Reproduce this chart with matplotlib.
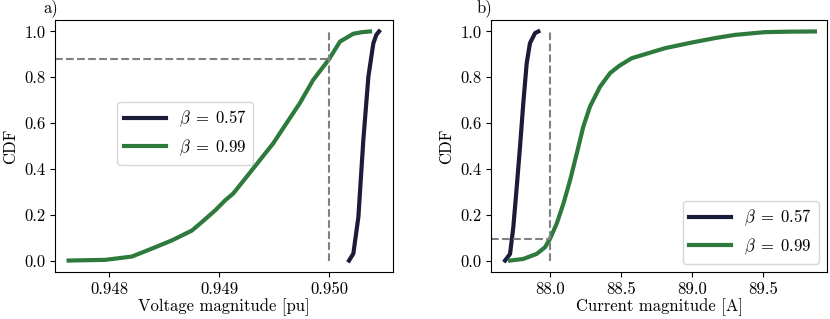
import matplotlib
matplotlib.use("Agg")
import matplotlib.pyplot as plt
import numpy as np

plt.rcParams['font.family'] = 'serif'
plt.rcParams['font.serif'] = ['cmr10']
plt.rcParams['mathtext.fontset'] = 'cm'
plt.rcParams['axes.formatter.use_mathtext'] = True
plt.rcParams['font.size'] = 12

# Panel a: voltage magnitude CDFs
va_low_x = [0.950182, 0.950221, 0.950267, 0.950312, 0.950358, 0.950403, 0.950430, 0.950455]
va_low_y = [0.0, 0.03, 0.19, 0.526, 0.803, 0.948, 0.985, 1.0]
va_high_x = [0.947630, 0.947964, 0.948206, 0.948418, 0.948570, 0.948752, 0.948843, 0.948964,
             0.949055, 0.949127, 0.949249, 0.949370, 0.949491, 0.949612, 0.949733, 0.949855,
             0.950000, 0.950100, 0.950221, 0.950300, 0.950373]
va_high_y = [0.0, 0.003, 0.0175, 0.058, 0.088, 0.131, 0.168, 0.219,
             0.263, 0.292, 0.365, 0.438, 0.511, 0.599, 0.686, 0.788,
             0.879, 0.956, 0.990, 0.997, 1.0]
va_ref_x = 0.950
va_ref_y = 0.879

# Panel b: current magnitude CDFs
ib_low_x = [87.684, 87.719, 87.742, 87.766, 87.789, 87.812, 87.836, 87.859, 87.895, 87.918]
ib_low_y = [0.0, 0.029, 0.146, 0.321, 0.496, 0.686, 0.861, 0.949, 0.993, 1.0]
ib_high_x = [87.719, 87.812, 87.906, 87.965, 88.000, 88.047, 88.094, 88.141, 88.188, 88.234,
             88.281, 88.352, 88.422, 88.487, 88.574, 88.691, 88.809, 89.000, 89.160, 89.300,
             89.510, 89.676, 89.863]
ib_high_y = [0.0, 0.007, 0.029, 0.058, 0.095, 0.161, 0.248, 0.350, 0.467, 0.584,
             0.672, 0.759, 0.818, 0.850, 0.883, 0.905, 0.927, 0.952, 0.971, 0.985,
             0.997, 0.999, 1.0]
ib_ref_x = 88.0
ib_ref_y = 0.095

labels = [r'$\beta\;=\;0.57$', r'$\beta\;=\;0.99$']
c_low = '#1b1b3a'
c_high = '#2d7a3c'
lw = 3

fig = plt.figure(figsize=(8.3, 3.19), dpi=100)
ax1 = fig.add_axes([55/830, 47/319, 338/830, 252/319])
ax2 = fig.add_axes([491/830, 47/319, 336/830, 252/319])

# a)
ax1.plot(va_low_x, va_low_y, color=c_low, lw=lw, label=labels[0])
ax1.plot(va_high_x, va_high_y, color=c_high, lw=lw, label=labels[1])
xl1 = (0.947506, 0.950582)
ax1.set_xlim(*xl1)
ax1.set_ylim(-0.05, 1.05)
ax1.vlines(va_ref_x, 0, 1, colors='gray', linestyles='--', lw=1.5)
ax1.hlines(va_ref_y, xl1[0], va_ref_x, colors='gray', linestyles='--', lw=1.5)
ax1.set_xticks([0.948, 0.949, 0.950])
ax1.set_xticklabels(['0.948', '0.949', '0.950'])
ax1.set_yticks([0.0, 0.2, 0.4, 0.6, 0.8, 1.0])
ax1.set_yticklabels(['0.0', '0.2', '0.4', '0.6', '0.8', '1.0'])
ax1.set_xlabel('Voltage magnitude [pu]', labelpad=1)
ax1.set_ylabel('CDF', labelpad=4)
ax1.legend(loc='center left', bbox_to_anchor=(0.16, 0.55), handlelength=2.5, fontsize=12)
fig.text(43/830, 1 - 8/319, 'a)', ha='left', va='center', fontsize=12)

# b)
ax2.plot(ib_low_x, ib_low_y, color=c_low, lw=lw, label=labels[0])
ax2.plot(ib_high_x, ib_high_y, color=c_high, lw=lw, label=labels[1])
xl2 = (87.585, 89.948)
ax2.set_xlim(*xl2)
ax2.set_ylim(-0.05, 1.05)
ax2.vlines(ib_ref_x, 0, 1, colors='gray', linestyles='--', lw=1.5)
ax2.hlines(ib_ref_y, xl2[0], ib_ref_x, colors='gray', linestyles='--', lw=1.5)
ax2.set_xticks([88.0, 88.5, 89.0, 89.5])
ax2.set_xticklabels(['88.0', '88.5', '89.0', '89.5'])
ax2.set_yticks([0.0, 0.2, 0.4, 0.6, 0.8, 1.0])
ax2.set_yticklabels(['0.0', '0.2', '0.4', '0.6', '0.8', '1.0'])
ax2.set_xlabel('Current magnitude [A]', labelpad=1)
ax2.set_ylabel('CDF', labelpad=4)
ax2.legend(loc='lower right', handlelength=2.5, fontsize=12)
fig.text(477/830, 1 - 8/319, 'b)', ha='left', va='center', fontsize=12)

fig.savefig('out.png', dpi=100)
